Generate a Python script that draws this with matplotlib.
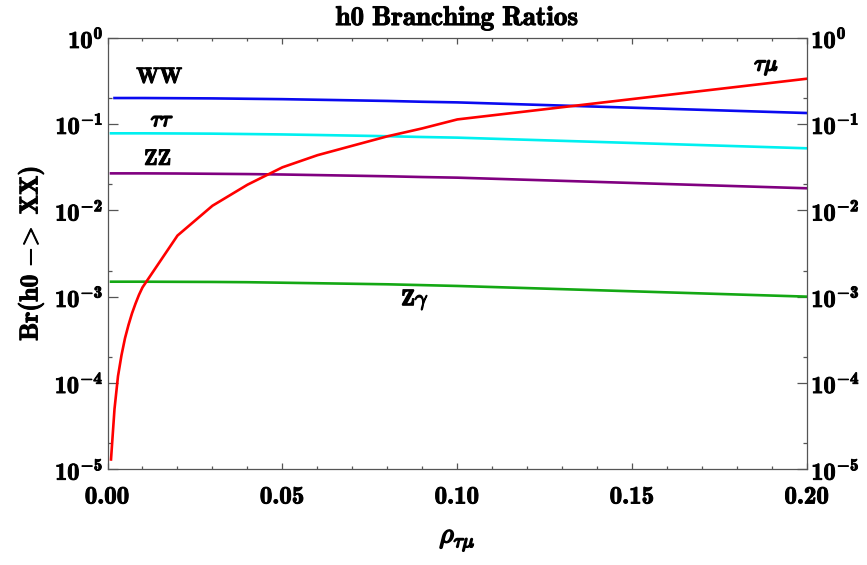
import numpy as np
import matplotlib
matplotlib.use("Agg")
import matplotlib.pyplot as plt
import matplotlib.ticker as ticker
import matplotlib.patheffects as pe

# Computer Modern bold for upright text, math italic for greek
plt.rcParams['mathtext.fontset'] = 'custom'
plt.rcParams['mathtext.rm'] = 'cmb10'
plt.rcParams['mathtext.bf'] = 'cmb10'
plt.rcParams['mathtext.it'] = 'cmmi10'
plt.rcParams['mathtext.sf'] = 'cmmi10'
plt.rcParams['mathtext.fallback'] = 'cm'

# Branching ratios of h0 versus the tau-mu coupling ====================
rho = [0.001, 0.002, 0.003, 0.004, 0.005, 0.006, 0.007, 0.008, 0.009, 0.010,
       0.02, 0.03, 0.04, 0.05, 0.06, 0.07, 0.08, 0.09, 0.10, 0.20]
br_taumu = [1.3e-5, 5.0e-5, 1.2e-4, 2.1e-4, 3.3e-4, 4.7e-4, 6.4e-4, 8.3e-4, 1.05e-3, 1.28e-3,
            5.1e-3, 1.13e-2, 1.98e-2, 3.15e-2, 4.35e-2, 5.6e-2, 7.2e-2, 8.9e-2, 0.113, 0.335]

rho_flat = [0.001, 0.01, 0.02, 0.03, 0.04, 0.05, 0.06, 0.07, 0.08, 0.09, 0.10, 0.20]
rho_ww = [0.002, 0.01, 0.02, 0.03, 0.04, 0.05, 0.06, 0.07, 0.08, 0.09, 0.10, 0.20]
br_ww = [0.200, 0.200, 0.199, 0.198, 0.196, 0.194, 0.191, 0.188, 0.185, 0.181, 0.178, 0.134]
br_tautau = [0.078, 0.078, 0.0777, 0.0773, 0.0765, 0.0757, 0.0746, 0.0734, 0.0722, 0.0707, 0.0695, 0.0523]
br_zz = [0.0268, 0.0268, 0.0267, 0.0265, 0.0263, 0.0260, 0.0256, 0.0252, 0.0248, 0.0243, 0.0239, 0.0180]
br_zgamma = [1.49e-3, 1.49e-3, 1.485e-3, 1.48e-3, 1.47e-3, 1.45e-3, 1.43e-3, 1.41e-3, 1.39e-3, 1.36e-3, 1.33e-3, 1.0e-3]

x_ticks = [0.00, 0.05, 0.10, 0.15, 0.20]
y_exps = [-5, -4, -3, -2, -1, 0]

# curve labels: (x, y, text, stroke width)
curve_labels = [(0.0150, 0.35, r'$\mathbf{WW}$', 0.7),
                (0.0157, 0.111, r'$\tau\tau$', 1.3),
                (0.0144, 0.0394, r'$\mathbf{ZZ}$', 0.7),
                (0.0879, 9.1e-4, r'$\mathbf{Z}\gamma$', 1.0),
                (0.1884, 0.452, r'$\tau\mu$', 1.3)]

fig = plt.figure(figsize=(8.67, 5.65), dpi=100)
ax = fig.add_axes([0.124, 0.1694, 0.807, 0.7639])

lw = 1.9
ax.plot(rho_ww, br_ww, color='#0a0af0', lw=lw)
ax.plot(rho_flat, br_tautau, color='#00f0f0', lw=lw)
ax.plot(rho_flat, br_zz, color='#800080', lw=lw)
ax.plot(rho_flat, br_zgamma, color='#14a814', lw=lw)
ax.plot(rho, br_taumu, color='#ff0000', lw=lw)

ax.set_yscale('log')
ax.set_xlim(0, 0.20)
ax.set_ylim(1e-5, 1)

# Frame and ticks ============================================
frame = '#555555'
for s in ax.spines.values():
    s.set_color(frame)
    s.set_linewidth(0.9)

ax.set_xticks(x_ticks)
ax.xaxis.set_major_formatter(ticker.FuncFormatter(lambda v, p: r'$%.2f$' % v))
ax.xaxis.set_minor_locator(ticker.MultipleLocator(0.01))
ax.set_yticks([10.0 ** e for e in y_exps])
ax.yaxis.set_major_formatter(ticker.FuncFormatter(lambda v, p: r'$10^{%d}$' % round(np.log10(v))))
ax.yaxis.set_minor_locator(ticker.FixedLocator([2 * 10.0 ** e for e in y_exps[:-1]]))
ax.yaxis.set_minor_formatter(ticker.NullFormatter())

ax.tick_params(axis='both', which='both', direction='in', color=frame, width=0.9,
               top=True, right=True, labelright=True, labeltop=False)
ax.tick_params(axis='x', which='major', length=4.5, pad=11, labelsize=18)
ax.tick_params(axis='x', which='minor', length=2.2)
ax.tick_params(axis='y', which='major', length=7, pad=3, labelsize=17.5)
ax.tick_params(axis='y', which='minor', length=3)

# Labels ==================================================
ax.set_title(r'$\mathbf{h0\ Branching\ Ratios}$', fontsize=19.5, pad=9)
ax.set_ylabel(r'$\mathbf{Br(h0}\ {-}\!\mathsf{>}\ \mathbf{XX)}$', fontsize=18.5, labelpad=6)
ax.set_xlabel(r'$\rho_{\tau\mu}$', fontsize=20, labelpad=12)

for x, y, s, w in curve_labels:
    t = ax.text(x, y, s, fontsize=16, ha='center', va='center')
    t.set_path_effects([pe.withStroke(linewidth=w, foreground='black')])

# heavier strokes on the remaining text, closer to bold-extended type
bold = [pe.withStroke(linewidth=0.7, foreground='black')]
texts = [ax.title, ax.yaxis.label]
texts += ax.get_xticklabels() + ax.get_yticklabels()
texts += [t.label2 for t in ax.yaxis.get_major_ticks()]
for t in texts:
    t.set_path_effects(bold)
ax.xaxis.label.set_path_effects([pe.withStroke(linewidth=1.2, foreground='black')])

fig.savefig('out.png', dpi=100)
